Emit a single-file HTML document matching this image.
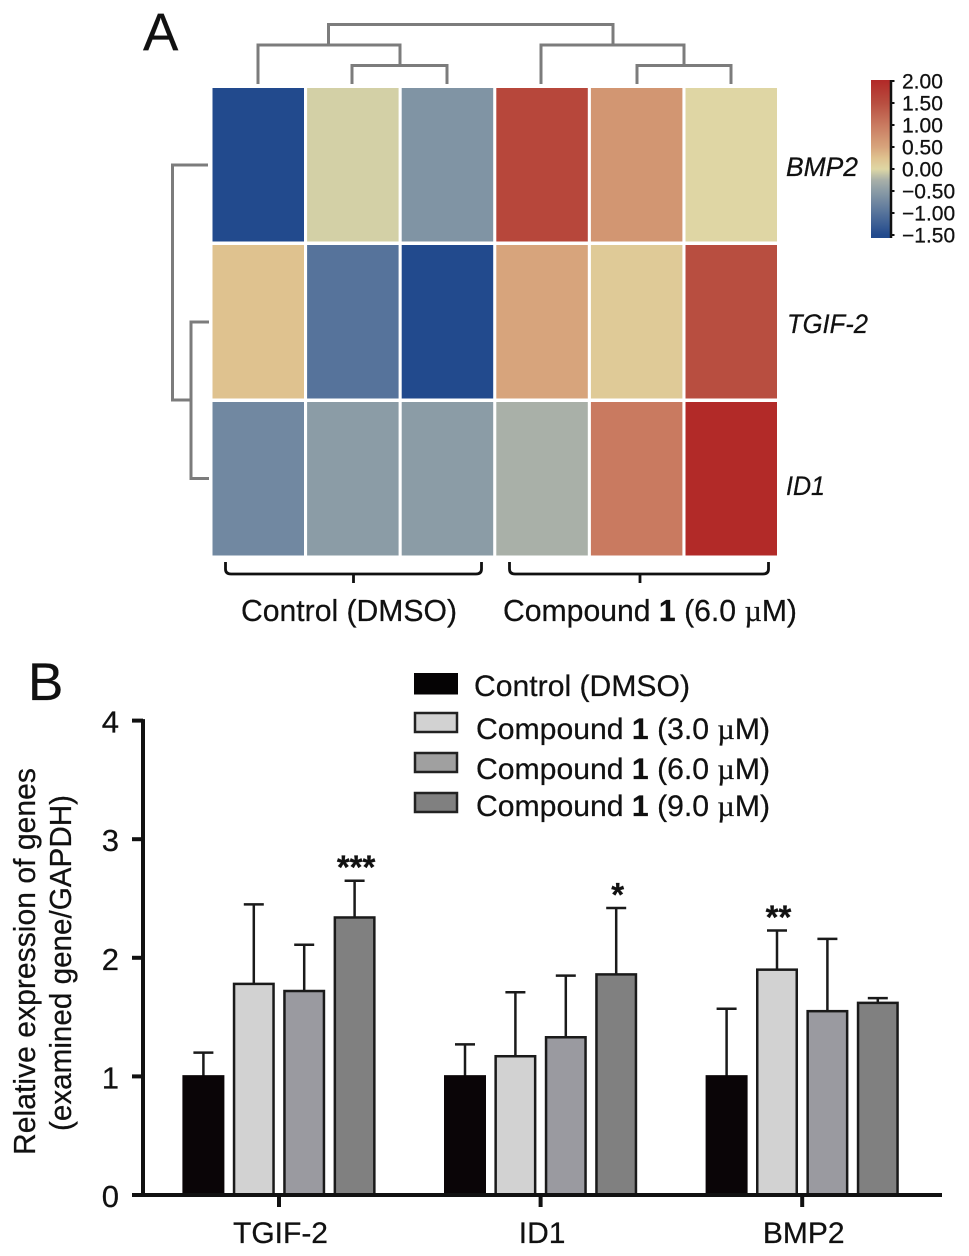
<!DOCTYPE html>
<html lang="en">
<head>
<meta charset="utf-8">
<title>Heatmap and gene expression bar chart</title>
<style>
html,body{margin:0;padding:0;background:#fff;}
svg{display:block;font-family:"Liberation Sans",sans-serif;}
text{fill:#111;stroke:#111;stroke-width:0.25px;}
</style>
</head>
<body>
<svg id="figure" xmlns="http://www.w3.org/2000/svg" width="969" height="1256" viewBox="0 0 969 1256">
<defs>
<linearGradient id="cbar-gradient" gradientUnits="userSpaceOnUse" x1="0" x2="0" y1="235" y2="81"></linearGradient>
</defs>
<rect width="969" height="1256" fill="#fff"/>

<text x="143" y="50" font-size="53">A</text>
<text x="28" y="700" font-size="53">B</text>

<g id="heatmap"></g>

<g fill="none" stroke="#7c7c7c" stroke-width="3">
<path d="M328.5 45V24.5H613V45"/>
<path d="M258 84V45H400V65.5M352 84V65.5H447V84"/>
<path d="M541 84V45H684V65.5M637 84V65.5H731V84"/>
</g>
<g fill="none" stroke="#7c7c7c" stroke-width="3">
<path d="M208 165H172.5V400H191"/>
<path d="M209 322H191V478.5H209"/>
</g>

<g font-size="27" font-style="italic">
<text x="786" y="176" textLength="72" lengthAdjust="spacingAndGlyphs">BMP2</text>
<text x="787" y="333" textLength="81" lengthAdjust="spacingAndGlyphs">TGIF-2</text>
<text x="786" y="495" textLength="39" lengthAdjust="spacingAndGlyphs">ID1</text>
</g>

<g fill="none" stroke="#111" stroke-width="2.8">
<path d="M225.5 562V569Q225.5 574 231 574H476Q481.500 574 481.500 569V562M353.500 574V583"/>
<path d="M509.500 562V569Q509.500 574 515 574H763Q768.500 574 768.500 569V562M640 574V583"/>
</g>
<text x="241" y="621" font-size="31" textLength="216" lengthAdjust="spacingAndGlyphs">Control (DMSO)</text>
<text x="503" y="621" font-size="31" textLength="294" lengthAdjust="spacingAndGlyphs">Compound <tspan font-weight="bold">1</tspan> (6.0 <tspan font-family="'Liberation Serif',serif">µ</tspan>M)</text>

<g id="colorbar"></g>

<g>
<rect x="414" y="673" width="44" height="21.500" fill="#050304"/>
<rect x="415" y="713" width="42" height="19" fill="#d2d2d2" stroke="#222" stroke-width="2.500"/>
<rect x="415" y="753" width="42" height="19" fill="#a0a0a0" stroke="#222" stroke-width="2.500"/>
<rect x="415" y="793" width="42" height="19" fill="#808080" stroke="#222" stroke-width="2.500"/>
<text x="474" y="696" font-size="30" textLength="216" lengthAdjust="spacingAndGlyphs">Control (DMSO)</text>
<text x="476" y="739" font-size="30" textLength="294" lengthAdjust="spacingAndGlyphs">Compound <tspan font-weight="bold">1</tspan> (3.0 <tspan font-family="'Liberation Serif',serif">µ</tspan>M)</text>
<text x="476" y="779" font-size="30" textLength="294" lengthAdjust="spacingAndGlyphs">Compound <tspan font-weight="bold">1</tspan> (6.0 <tspan font-family="'Liberation Serif',serif">µ</tspan>M)</text>
<text x="476" y="816" font-size="30" textLength="294" lengthAdjust="spacingAndGlyphs">Compound <tspan font-weight="bold">1</tspan> (9.0 <tspan font-family="'Liberation Serif',serif">µ</tspan>M)</text>
</g>

<g font-size="31">
<text transform="translate(35 1155) rotate(-90)" textLength="387" lengthAdjust="spacingAndGlyphs">Relative expression of genes</text>
<text transform="translate(71 1131) rotate(-90)" textLength="336" lengthAdjust="spacingAndGlyphs">(examined gene/GAPDH)</text>
</g>

<g id="bar-chart"></g>
</svg>

<script>
// ---------- Heatmap data ----------
var heatRows = ['BMP2', 'TGIF-2', 'ID1'];
var heatColumns = ['control-1', 'control-2', 'control-3', 'compound-1', 'compound-2', 'compound-3'];
var heatBmp2 = [-1.5, -0.05, -0.6, 1.6, 0.67, 0.0];
var heatTgif2 = [0.25, -1.0, -1.5, 0.5, 0.15, 1.5];
var heatId1 = [-0.75, -0.5, -0.5, -0.25, 1.0, 2.0];
var heatValues = [heatBmp2, heatTgif2, heatId1];
var scaleValues = [-1.5, -1.0, -0.5, -0.25, -0.05, 0, 0.25, 0.5, 1.0, 1.5, 2.0];
var scaleColors = ['#224a8d', '#56739b', '#8b9ca6', '#a9b0a8', '#d3d0a6', '#dfd6a4', '#dfc28f', '#d7a47c', '#c97a60', '#b84e40', '#b22a28'];
var colorbarTicks = [2, 1.5, 1, 0.5, 0, -0.5, -1, -1.5];
var colorbarTickLabels = ['2.00', '1.50', '1.00', '0.50', '0.00', '\u22120.50', '\u22121.00', '\u22121.50'];

// ---------- Bar chart data ----------
var geneCategories = ['TGIF-2', 'ID1', 'BMP2'];
var seriesNames = ['control', 'compound-3um', 'compound-6um', 'compound-9um'];
var controlValues = [1.0, 1.0, 1.0];
var compound3Values = [1.78, 1.17, 1.9];
var compound6Values = [1.72, 1.33, 1.55];
var compound9Values = [2.34, 1.86, 1.62];
var controlErrorTops = [1.2, 1.27, 1.57];
var compound3ErrorTops = [2.45, 1.71, 2.23];
var compound6ErrorTops = [2.11, 1.85, 2.16];
var compound9ErrorTops = [2.65, 2.42, 1.66];
var seriesValues = [controlValues, compound3Values, compound6Values, compound9Values];
var seriesErrorTops = [controlErrorTops, compound3ErrorTops, compound6ErrorTops, compound9ErrorTops];
var seriesFills = ['#0a0507', '#d2d2d2', '#9a9aa0', '#808080'];
var significanceGene = [0, 1, 2];
var significanceSeries = [3, 3, 1];
var significanceLabels = ['***', '*', '**'];
var yTicks = [0, 1, 2, 3, 4];
var yTickLabels = ['0', '1', '2', '3', '4'];

var NS = 'http://www.w3.org/2000/svg';
function mk(parent, tag, attrs, text) {
  var el = document.createElementNS(NS, tag);
  for (var k in attrs) { el.setAttribute(k, attrs[k]); }
  if (text !== undefined) { el.textContent = text; }
  parent.appendChild(el);
  return el;
}
function hexToRgb(h) {
  return [parseInt(h.substr(1, 2), 16), parseInt(h.substr(3, 2), 16), parseInt(h.substr(5, 2), 16)];
}
function colorFor(v) {
  if (v <= scaleValues[0]) { return scaleColors[0]; }
  for (var i = 1; i < scaleValues.length; i++) {
    if (v <= scaleValues[i]) {
      var t = (v - scaleValues[i - 1]) / (scaleValues[i] - scaleValues[i - 1]);
      var a = hexToRgb(scaleColors[i - 1]);
      var b = hexToRgb(scaleColors[i]);
      return 'rgb(' + Math.round(a[0] + (b[0] - a[0]) * t) + ',' + Math.round(a[1] + (b[1] - a[1]) * t) + ',' + Math.round(a[2] + (b[2] - a[2]) * t) + ')';
    }
  }
  return scaleColors[scaleColors.length - 1];
}

// Heatmap axis functions
function heatX(c) { return 212.5 + c * 94.6; }
function heatY(r) { return 88 + r * 157; }
var heatmapGroup = document.getElementById('heatmap');
heatRows.forEach(function (rowName, r) {
  heatColumns.forEach(function (colName, c) {
    var cell = mk(heatmapGroup, 'rect', { x: heatX(c), y: heatY(r), width: 91.5, height: 153.5, fill: colorFor(heatValues[r][c]) });
    
    
  });
});

// Colour scale
function cbarY(v) { return 235 - (v + 1.5) * 44; }
var gradient = document.getElementById('cbar-gradient');
scaleValues.forEach(function (v, i) {
  mk(gradient, 'stop', { offset: (v + 1.5) / 3.5, 'stop-color': scaleColors[i] });
});
var colorbarGroup = document.getElementById('colorbar');
var cbarRect = mk(colorbarGroup, 'rect', { x: 871, y: 80, width: 19, height: 158, fill: 'url(#cbar-gradient)' });


var cbarLine = mk(colorbarGroup, 'line', { x1: 891, x2: 891, y1: 80, y2: 238, stroke: '#111', 'stroke-width': 2.5 });


colorbarTicks.forEach(function (v, i) {
  var tick = mk(colorbarGroup, 'line', { x1: 891, x2: 894.5, y1: cbarY(v), y2: cbarY(v), stroke: '#111', 'stroke-width': 2 });
  
  
  var label = mk(colorbarGroup, 'text', { x: 902, y: cbarY(v) + 7.5, 'font-size': 21 }, colorbarTickLabels[i]);
  
  
});

// Bar chart axis functions
function yScale(v) { return 1195 - v * 118.6; }
function groupX(g) { return 279 + g * 261.6; }
var BAR_PITCH = 50.4;
var BAR_WIDTH = 41.5;
function barCenter(g, s) { return groupX(g) + (s - 1.5) * BAR_PITCH; }

var chart = document.getElementById('bar-chart');

geneCategories.forEach(function (gene, g) {
  seriesNames.forEach(function (name, s) {
    var cx = barCenter(g, s);
    var top = yScale(seriesValues[s][g]);
    var errTop = yScale(seriesErrorTops[s][g]);
    var stem = mk(chart, 'line', { x1: cx, x2: cx, y1: top, y2: errTop, stroke: '#1a1a1a', 'stroke-width': 2.5 });
    
    
    var cap = mk(chart, 'line', { x1: cx - 10, x2: cx + 10, y1: errTop, y2: errTop, stroke: '#1a1a1a', 'stroke-width': 2.5 });
    
    
    var bar = mk(chart, 'rect', {
      x: cx - BAR_WIDTH / 2 + 1,
      y: top,
      width: BAR_WIDTH - 2,
      height: yScale(0) - top,
      fill: seriesFills[s],
      stroke: s === 0 ? '#0a0507' : '#1a1a1a',
      'stroke-width': 2.5
    });
    
    
  });
  var xTick = mk(chart, 'line', { x1: groupX(g), x2: groupX(g), y1: 1195, y2: 1207, stroke: '#111', 'stroke-width': 4 });
  
  
  var xLabel = mk(chart, 'text', { x: groupX(g) + 1.5, y: 1243, 'font-size': 30, 'text-anchor': 'middle' }, gene);
  
  
});

var yAxis = mk(chart, 'line', { x1: 143, x2: 143, y1: yScale(4) - 1.5, y2: 1197, stroke: '#111', 'stroke-width': 4 });


var xAxis = mk(chart, 'line', { x1: 132, x2: 942, y1: 1195, y2: 1195, stroke: '#111', 'stroke-width': 4 });



yTicks.forEach(function (v, i) {
  var tick = mk(chart, 'line', { x1: 132, x2: 143, y1: yScale(v), y2: yScale(v), stroke: '#111', 'stroke-width': 4 });
  
  
  var label = mk(chart, 'text', { x: 119, y: yScale(v) + 12, 'font-size': 31, 'text-anchor': 'end' }, yTickLabels[i]);
  
  
});

significanceLabels.forEach(function (stars, i) {
  var g = significanceGene[i];
  var s = significanceSeries[i];
  var mark = mk(chart, 'text', { x: barCenter(g, s) + 1.5, y: yScale(seriesErrorTops[s][g]) - 2, 'font-size': 33, 'font-weight': 'bold', 'text-anchor': 'middle' }, stars);
  
  
});
</script>
</body>
</html>
